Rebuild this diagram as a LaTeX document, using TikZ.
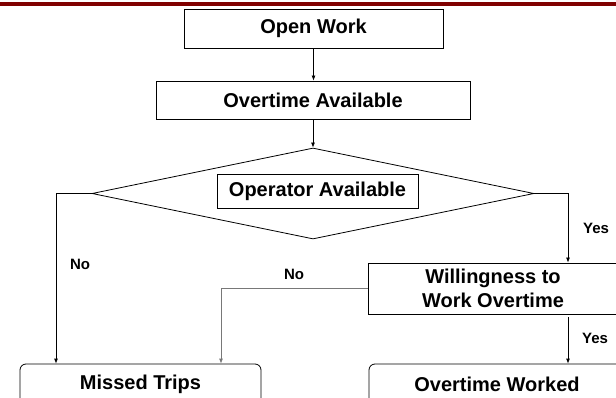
\documentclass[tikz,border=0pt]{standalone}
\usepackage{fontspec}
\setmainfont{Liberation Sans}
\usetikzlibrary{shapes.geometric,arrows.meta,calc}
\definecolor{barred}{RGB}{128,0,0}
\definecolor{lightline}{RGB}{120,120,120}
\begin{document}
\begin{tikzpicture}[x=1pt,y=-1pt,
  box/.style={draw=black,line width=0.8pt,inner sep=0pt,align=center,
    font=\fontsize{20}{24}\selectfont\bfseries},
  endbox/.style={box,rounded corners=6pt},
  deci/.style={draw=black,line width=0.8pt,diamond,inner sep=0pt,
    minimum width=442pt,minimum height=91pt},
  conn/.style={draw=black,line width=0.8pt,-{Latex[length=5pt,width=4pt]}},
  lbl/.style={font=\fontsize{15}{18}\selectfont\bfseries,inner sep=0pt}]
\useasboundingbox (0,0) rectangle (616,398);
\clip (0,0) rectangle (616,398);
\fill[white] (0,0) rectangle (616,398);
\fill[barred] (0,2.5) rectangle (616,6.5);

\node[box,minimum width=259pt,minimum height=39pt] (ow) at (313.5,28.5) {Open Work};
\node[box,minimum width=314pt,minimum height=38pt] (oa) at (313,100) {Overtime Available};
\node[deci] (dia) at (313,193.5) {};
\node[box,minimum width=201pt,minimum height=34pt] (op) at (317.5,191) {Operator Available};
\node[endbox,minimum width=241pt,minimum height=40pt] (ms) at (140.5,384) {Missed Trips};
\node[box,minimum width=250pt,minimum height=51pt] (wl) at (493,288.5) {Willingness to\\Work Overtime};
\node[endbox,minimum width=256pt,minimum height=40pt] (ot) at (497,384) {Overtime Worked};

\coordinate (lcor) at (56,193.5);
\coordinate (rcor) at (568,193.5);
\coordinate (ncor) at (221,288.5);

\draw[conn] (ow.south) -- (ow.south |- oa.north);
\draw[conn] (oa.south) -- (dia.north);
\draw[conn] (dia.west) -- (lcor) -- (lcor |- ms.north);
\draw[conn] (dia.east) -- (rcor) -- (rcor |- wl.north);
\draw[conn,draw=lightline] (wl.west) -- (ncor) -- (ncor |- ms.north);
\draw[conn,shorten <=3pt] (rcor |- wl.south) -- (rcor |- ot.north);

\node[lbl] (no1) at (80,264) {No};
\node[lbl] (no2) at (294,274) {No};
\node[lbl] (yes1) at (596,228) {Yes};
\node[lbl] (yes2) at (595,338) {Yes};
\end{tikzpicture}
\end{document}
